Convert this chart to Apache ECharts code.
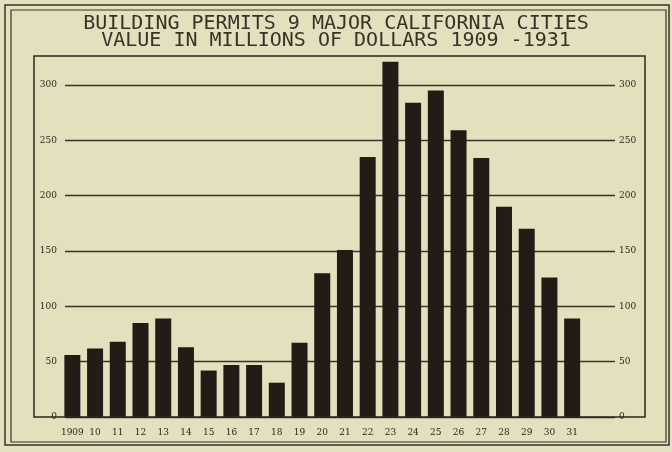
<!DOCTYPE html>
<html>
<head>
<meta charset="utf-8">
<script src="https://cdn.jsdelivr.net/npm/echarts@6/dist/echarts.min.js"></script>
<style>html,body{margin:0;padding:0;background:#e4e0be;}#c{width:672px;height:452px;}</style>
</head>
<body>
<div id="c"></div>
<script>
var years = ['1909','10','11','12','13','14','15','16','17','18','19','20','21','22','23','24','25','26','27','28','29','30','31'];
var permits = [56,62,68,85,89,63,42,47,47,31,67,130,151,235,321,284,295,259,234,190,170,126,89];
var yTicks = [0,50,100,150,200,250,300];
var titleLines = ['BUILDING PERMITS 9 MAJOR CALIFORNIA CITIES','VALUE IN MILLIONS OF DOLLARS 1909 -1931'];

var ink = '#2e261f';
var chart = echarts.init(document.getElementById('c'), null, {renderer:'canvas'});
var labelFont = {color: ink, fontSize: 9, fontFamily: 'DejaVu Serif'};
chart.setOption({
  backgroundColor: '#e4e0be',
  animation: false,
  title: {
    text: titleLines.join('\n'),
    left: 'center', top: 10,
    textStyle: {color: '#3a3128', fontSize: 20, fontWeight: 'normal', fontFamily: 'DejaVu Sans Mono', lineHeight: 17}
  },
  grid: [
    {left: 61, right: 88.5, top: 85, bottom: 35},
    {left: 65, right: 57, top: 85, bottom: 35}
  ],
  xAxis: [
    {type: 'category', gridIndex: 0, data: years,
     axisLine: {show: false}, axisTick: {show: false},
     axisLabel: Object.assign({interval: 0, margin: 11}, labelFont)},
    {type: 'value', gridIndex: 1, show: false, min: 0, max: 1}
  ],
  yAxis: [
    {type: 'value', gridIndex: 0, min: yTicks[0], max: yTicks[yTicks.length-1], show: false, splitLine: {show: false}},
    {type: 'value', gridIndex: 1, position: 'left', min: yTicks[0], max: yTicks[yTicks.length-1], interval: 50,
     axisLine: {show: false}, axisTick: {show: false},
     axisLabel: Object.assign({margin: 8}, labelFont),
     splitLine: {show: true, lineStyle: {color: '#3a3128', width: 1.3}}},
    {type: 'value', gridIndex: 1, position: 'right', min: yTicks[0], max: yTicks[yTicks.length-1], interval: 50,
     axisLine: {show: false}, axisTick: {show: false},
     axisLabel: Object.assign({margin: 4}, labelFont),
     splitLine: {show: false}}
  ],
  series: [{
    type: 'bar', xAxisIndex: 0, yAxisIndex: 0, data: permits,
    barWidth: 16, clip: false, z: 5,
    itemStyle: {color: '#221b16'}
  }],
  graphic: [
    {type: 'rect', shape: {x: 5, y: 5, width: 664, height: 440}, style: {fill: null, stroke: '#3a3128', lineWidth: 1.5}, z: 10},
    {type: 'rect', shape: {x: 11, y: 10, width: 655, height: 432}, style: {fill: null, stroke: '#3a3128', lineWidth: 1.2}, z: 10},
    {type: 'rect', shape: {x: 34, y: 56, width: 611, height: 361}, style: {fill: null, stroke: '#2e261f', lineWidth: 1.5}, z: 10}
  ]
});
</script>
</body>
</html>
